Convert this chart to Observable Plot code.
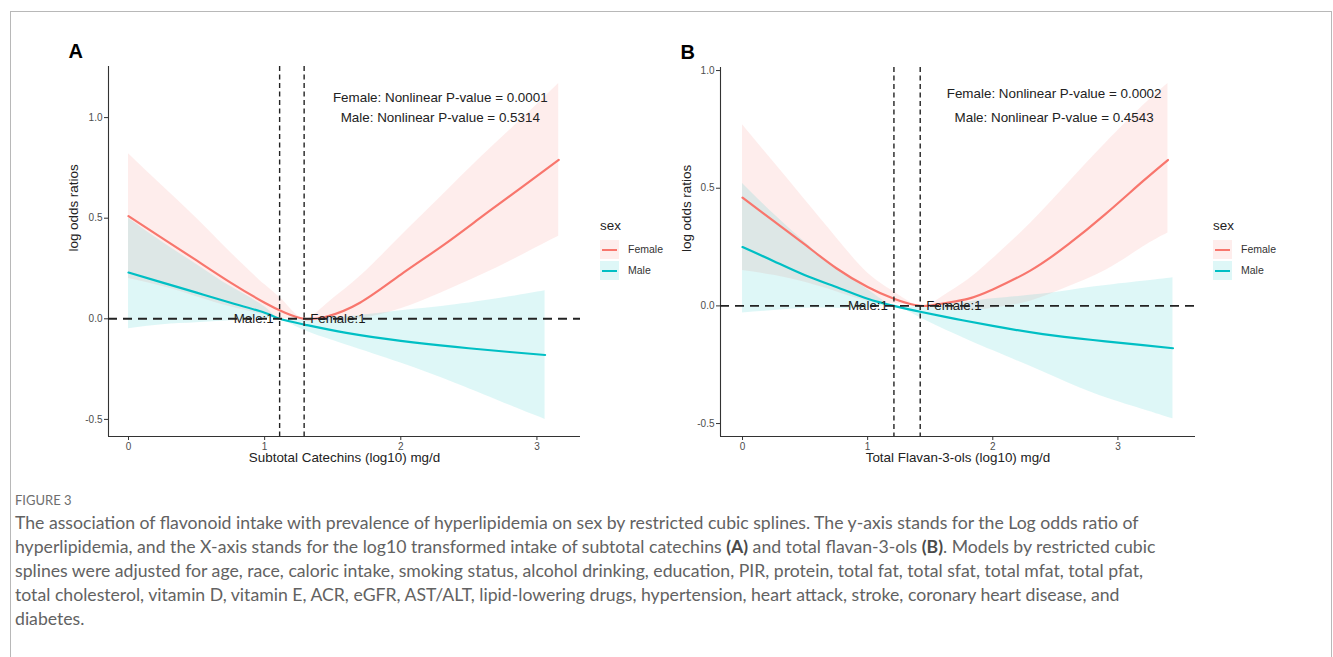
<!DOCTYPE html>
<html><head><meta charset="utf-8">
<script src="https://cdn.jsdelivr.net/npm/d3@7"></script>
<script src="https://cdn.jsdelivr.net/npm/@observablehq/plot@0.6"></script>
<style>
body{margin:0;background:#fff;width:1333px;height:657px;overflow:hidden;position:relative;font-family:"Liberation Sans",Arial,sans-serif;}
#frame{position:absolute;left:10px;top:11px;width:1322px;height:700px;border:1px solid #b8b8b8;border-bottom:none;box-sizing:border-box;}
.panel{position:absolute;top:0;}
.legend{position:absolute;font-family:"Liberation Sans",Arial,sans-serif;color:#222;}
.legend .ttl{position:absolute;font-size:13.4px;white-space:nowrap;}
.legend .key{position:absolute;width:19px;height:19px;}
.legend .key i{position:absolute;left:2px;right:2px;top:8.5px;height:2px;}
.legend .lab{position:absolute;font-size:10.5px;white-space:nowrap;color:#333;}
#cap{position:absolute;left:15px;top:489px;color:#626262;font-family:Lato,"Open Sans",sans-serif;}
#cap .fig{font-size:13px;height:22px;line-height:22px;color:#6e6e6e;}
#cap .ln{white-space:nowrap;line-height:24px;height:24px;}
#cap b{color:#4a4a4a;font-weight:700;}
</style>
</head><body>
<div id="frame"></div>
<div id="pA" class="panel" style="left:0px"></div>
<div id="pB" class="panel" style="left:666px"></div>
<div id="legA" class="legend" style="left:600px;top:218px"></div>
<div id="legB" class="legend" style="left:1213px;top:218px"></div>
<div id="cap"></div>
<script>
// ---------- DATA ----------
const sexes = ["Female", "Male"];
const sexColors = ["#F8766D", "#00BFC4"];

// Panel A: Subtotal Catechins
const aFemaleX     = [0, 0.25, 0.5, 0.75, 1.0, 1.15, 1.29, 1.45, 1.7, 2.0, 2.3, 2.6, 2.9, 3.16];
const aFemaleFit   = [0.51, 0.40, 0.29, 0.18, 0.08, 0.03, 0.00, 0.01, 0.08, 0.22, 0.36, 0.51, 0.66, 0.79];
const aFemaleUpper = [0.82, 0.66, 0.50, 0.33, 0.17, 0.08, 0.00, 0.07, 0.21, 0.41, 0.61, 0.81, 1.00, 1.17];
const aFemaleLower = [0.20, 0.16, 0.11, 0.06, 0.02, 0.00, 0.00, -0.01, 0.00, 0.05, 0.13, 0.22, 0.32, 0.41];
const aMaleX       = [0, 0.25, 0.5, 0.75, 1.0, 1.11, 1.3, 1.6, 2.0, 2.4, 2.8, 3.06];
const aMaleFit     = [0.23, 0.18, 0.13, 0.08, 0.03, 0.00, -0.03, -0.07, -0.11, -0.14, -0.165, -0.18];
const aMaleUpper   = [0.50, 0.38, 0.27, 0.16, 0.06, 0.00, 0.00, 0.01, 0.04, 0.07, 0.11, 0.14];
const aMaleLower   = [-0.05, -0.03, -0.02, -0.01, 0.00, 0.00, -0.06, -0.13, -0.22, -0.32, -0.43, -0.50];
const aRefs        = [1.11, 1.29];   // Male, Female reference points
const aPvalues     = ["0.0001", "0.5314"];

// Panel B: Total Flavan-3-ols
const bFemaleX     = [0, 0.25, 0.5, 0.75, 1.0, 1.21, 1.42, 1.6, 1.8, 2.0, 2.3, 2.6, 2.9, 3.2, 3.40];
const bFemaleFit   = [0.46, 0.36, 0.26, 0.16, 0.08, 0.03, 0.00, 0.01, 0.03, 0.07, 0.15, 0.26, 0.39, 0.53, 0.62];
const bFemaleUpper = [0.77, 0.61, 0.45, 0.29, 0.14, 0.06, 0.00, 0.04, 0.11, 0.20, 0.35, 0.52, 0.69, 0.85, 0.945];
const bFemaleLower = [0.15, 0.13, 0.10, 0.06, 0.02, 0.01, 0.00, -0.01, -0.02, -0.01, 0.02, 0.08, 0.15, 0.25, 0.31];
const bMaleX       = [0, 0.25, 0.5, 0.75, 1.0, 1.21, 1.42, 1.7, 2.0, 2.4, 2.8, 3.2, 3.44];
const bMaleFit     = [0.25, 0.19, 0.13, 0.08, 0.03, 0.00, -0.025, -0.055, -0.085, -0.12, -0.145, -0.167, -0.18];
const bMaleUpper   = [0.52, 0.39, 0.27, 0.16, 0.07, 0.00, 0.00, 0.01, 0.03, 0.05, 0.08, 0.105, 0.12];
const bMaleLower   = [-0.03, -0.02, -0.01, -0.01, -0.01, 0.00, -0.05, -0.12, -0.19, -0.28, -0.37, -0.44, -0.48];
const bRefs        = [1.21, 1.42];
const bPvalues     = ["0.0002", "0.4543"];

const xTicks = [0, 1, 2, 3];
const yTicksA = [-0.5, 0.0, 0.5, 1.0];
const yTicksB = [-0.5, 0.0, 0.5, 1.0];
const xTitles = ["Subtotal Catechins (log10) mg/d", "Total Flavan-3-ols (log10) mg/d"];
const yTitle = "log odds ratios";
const panelLetters = ["A", "B"];

// ---------- HELPERS ----------
function rows(xs, fit, lo, hi, sex) {
  return xs.map((x, i) => ({x, fit: fit[i], lo: lo[i], hi: hi[i], sex}));
}
const FONT = "'Liberation Sans', Arial, sans-serif";
const CURVE = "natural";

function panel(cfg) {
  const data = [...cfg.female, ...cfg.male];
  const [x0, x1] = cfg.xDomain, [y0, y1] = cfg.yDomain;
  const color = {domain: sexes, range: sexColors};
  return Plot.plot({
    width: cfg.width, height: 480,
    marginLeft: cfg.ml, marginRight: cfg.mr, marginTop: cfg.mt, marginBottom: 44,
    style: {fontFamily: FONT, background: "transparent", overflow: "visible"},
    x: {domain: cfg.xDomain, axis: null},
    y: {domain: cfg.yDomain, axis: null},
    color,
    marks: [
      Plot.areaY(data, {x: "x", y1: "lo", y2: "hi", z: "sex", fill: "sex", fillOpacity: 0.13, curve: CURVE}),
      Plot.line(data, {x: "x", y: "fit", z: "sex", stroke: "sex", strokeWidth: 2.2, curve: CURVE}),
      // axes
      Plot.ruleX([x0], {stroke: "#333", strokeWidth: 1.1}),
      Plot.ruleY([y0], {stroke: "#333", strokeWidth: 1.1}),
      Plot.axisX(xTicks, {tickSize: 4, tickPadding: 2, stroke: "#333", fill: "#4d4d4d", fontSize: 10, tickFormat: d => String(d), label: null}),
      Plot.axisY(cfg.yTicks, {tickSize: 4, tickPadding: 2, stroke: "#333", fill: "#4d4d4d", fontSize: 10, tickFormat: d => d.toFixed(1), label: null}),
      // reference labels
      Plot.text([cfg.refs[0]], {x: d => d, y: () => 0, text: () => "Male:1", textAnchor: "end", dx: -6, fontSize: 13.3, fill: "#1a1a1a"}),
      Plot.text([cfg.refs[1]], {x: d => d, y: () => 0, text: () => "Female:1", textAnchor: "start", dx: 6, fontSize: 13.3, fill: "#1a1a1a"}),
      // dashed reference lines
      Plot.ruleY([0], {stroke: "#222", strokeWidth: 1.9, strokeDasharray: "9,6"}),
      Plot.ruleX(cfg.refs, {stroke: "#222", strokeWidth: 1.4, strokeDasharray: "5,3.5"}),
      // annotations
      Plot.text([`Female: Nonlinear P-value = ${cfg.pv[0]}`], {x: () => cfg.annX, y: () => cfg.annY[0], text: d => d, fontSize: 13.4, fill: "#222"}),
      Plot.text([`Male: Nonlinear P-value = ${cfg.pv[1]}`], {x: () => cfg.annX, y: () => cfg.annY[1], text: d => d, fontSize: 13.4, fill: "#222"}),
      // titles
      Plot.text([cfg.xTitle], {frameAnchor: "bottom", dy: 25, text: d => d, fontSize: 13.4, fill: "#222"}),
      Plot.text([yTitle], {frameAnchor: "left", dx: -cfg.yTitleOff, rotate: -90, text: d => d, fontSize: 13.4, fill: "#222"}),
      Plot.text([cfg.letter], {frameAnchor: "top-left", dx: cfg.letterDx, dy: -9, textAnchor: "start", lineAnchor: "bottom", text: d => d, fontSize: 20, fontWeight: "bold", fill: "#000"})
    ]
  });
}

document.getElementById("pA").appendChild(panel({
  width: 666, ml: 108, mr: 86, mt: 66,
  xDomain: [-0.147, 3.32], yDomain: [-0.585, 1.254], yTicks: yTicksA,
  female: rows(aFemaleX, aFemaleFit, aFemaleLower, aFemaleUpper, "Female"),
  male: rows(aMaleX, aMaleFit, aMaleLower, aMaleUpper, "Male"),
  refs: aRefs, pv: aPvalues, annX: 2.29, annY: [1.10, 1.00],
  xTitle: xTitles[0], yTitleOff: 35, letter: panelLetters[0], letterDx: -40
}));
document.getElementById("pB").appendChild(panel({
  width: 667, ml: 54, mr: 138, mt: 67,
  xDomain: [-0.176, 3.62], yDomain: [-0.555, 1.013], yTicks: yTicksB,
  female: rows(bFemaleX, bFemaleFit, bFemaleLower, bFemaleUpper, "Female"),
  male: rows(bMaleX, bMaleFit, bMaleLower, bMaleUpper, "Male"),
  refs: bRefs, pv: bPvalues, annX: 2.49, annY: [0.90, 0.80],
  xTitle: xTitles[1], yTitleOff: 34, letter: panelLetters[1], letterDx: -40
}));

// ---------- LEGENDS ----------
function legend(el) {
  let h = `<div class="ttl" style="left:0;top:0">sex</div>`;
  sexes.forEach((s, i) => {
    const top = 22 + i * 21;
    const rgb = d3.color(sexColors[i]); rgb.opacity = 0.13;
    h += `<div class="key" style="left:0;top:${top}px;background:${rgb.formatRgb()}"><i style="background:${sexColors[i]}"></i></div>`;
    h += `<div class="lab" style="left:28px;top:${top + 3}px">${s}</div>`;
  });
  el.innerHTML = h;
}
legend(document.getElementById("legA"));
legend(document.getElementById("legB"));

// ---------- CAPTION ----------
const captionLabel = "FIGURE 3";
const captionLines = [
  "The association of flavonoid intake with prevalence of hyperlipidemia on sex by restricted cubic splines. The y-axis stands for the Log odds ratio of",
  "hyperlipidemia, and the X-axis stands for the log10 transformed intake of subtotal catechins <b>(A)</b> and total flavan-3-ols <b>(B)</b>. Models by restricted cubic",
  "splines were adjusted for age, race, caloric intake, smoking status, alcohol drinking, education, PIR, protein, total fat, total sfat, total mfat, total pfat,",
  "total cholesterol, vitamin D, vitamin E, ACR, eGFR, AST/ALT, lipid-lowering drugs, hypertension, heart attack, stroke, coronary heart disease, and",
  "diabetes."
];
const cv = document.createElement("canvas").getContext("2d");
cv.font = "16px Lato";
const w1 = cv.measureText(captionLines[0]).width;
const fs = 16 * 1127 / w1;
const cap = document.getElementById("cap");
cap.innerHTML = `<div class="fig">${captionLabel}</div>` + captionLines.map(l => `<div class="ln" style="font-size:${fs.toFixed(2)}px">${l}</div>`).join("");
</script>
</body></html>
